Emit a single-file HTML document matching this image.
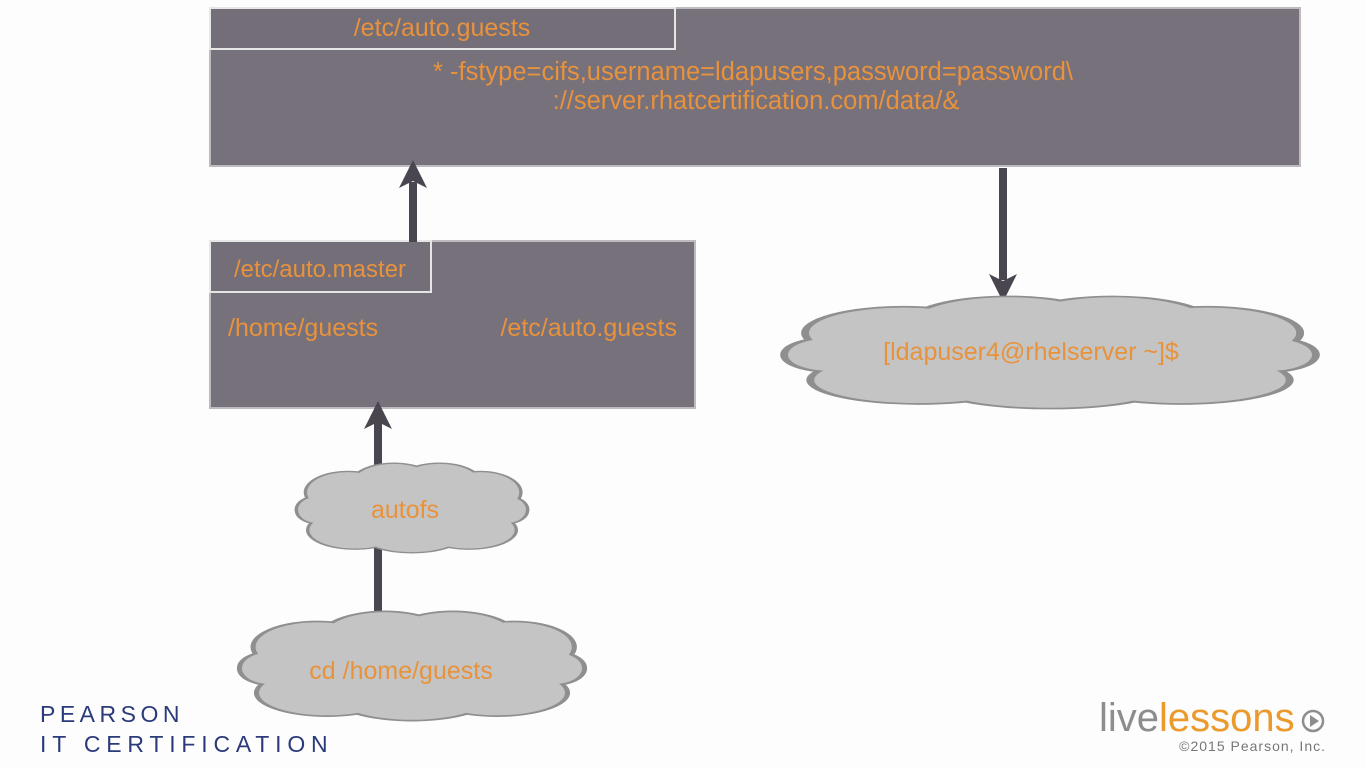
<!DOCTYPE html>
<html><head><meta charset="utf-8"><style>
html,body{margin:0;padding:0;background:#fdfdfd;width:1366px;height:768px;overflow:hidden}
svg{display:block}
text{font-family:"Liberation Sans",sans-serif}
</style></head><body>
<svg width="1366" height="768" viewBox="0 0 1366 768">
<defs>
<g id="cl">
<ellipse cx="50" cy="50" rx="44" ry="34"/>
<ellipse cx="22" cy="33" rx="18" ry="22"/>
<ellipse cx="42" cy="24" rx="18" ry="22"/>
<ellipse cx="62" cy="24" rx="18" ry="22"/>
<ellipse cx="80" cy="33" rx="17" ry="22"/>
<ellipse cx="8" cy="52" rx="8" ry="14"/>
<ellipse cx="92" cy="52" rx="8" ry="14"/>
<ellipse cx="25" cy="74" rx="20" ry="20"/>
<ellipse cx="50" cy="78" rx="22" ry="20"/>
<ellipse cx="75" cy="74" rx="20" ry="20"/>
</g>
</defs>

<rect x="210" y="8" width="1090" height="158" fill="#77717c" stroke="#bdbac0" stroke-width="2"/>
<rect x="210" y="8" width="465" height="41" fill="#736e78" stroke="#e6e6e6" stroke-width="2"/>
<text x="442" y="36" font-size="25" fill="#e8923c" text-anchor="middle">/etc/auto.guests</text>
<text x="753" y="80" font-size="25.5" fill="#e8923c" text-anchor="middle">* -fstype=cifs,username=ldapusers,password=password\</text>
<text x="756" y="109" font-size="25.5" fill="#e8923c" text-anchor="middle">://server.rhatcertification.com/data/&amp;</text>

<rect x="210" y="241" width="485" height="167" fill="#77717c" stroke="#bdbac0" stroke-width="2"/>
<rect x="210" y="241" width="221" height="51" fill="#736e78" stroke="#e6e6e6" stroke-width="2"/>
<text x="320" y="277" font-size="24" fill="#e8923c" text-anchor="middle">/etc/auto.master</text>
<text x="228" y="336" font-size="25" fill="#e8923c">/home/guests</text>
<text x="677" y="336" font-size="25" fill="#e8923c" text-anchor="end">/etc/auto.guests</text>

<g fill="#4a4650">
<rect x="409" y="182" width="8" height="60"/>
<polygon points="413,160 399,188 413,181 427,188"/>
<rect x="999" y="168" width="8" height="112"/>
<polygon points="1003,302 989,274 1003,281 1017,274"/>
<rect x="374" y="422" width="8" height="50"/>
<polygon points="378,401 364,429 378,422 392,429"/>
<rect x="374" y="545" width="8" height="70"/>
</g>

<g transform="translate(298,462) scale(2.28,0.92)" fill="#c4c4c4" stroke="#8f8f8f" stroke-width="3"><use href="#cl"/></g>
<g transform="translate(298,462) scale(2.28,0.92)" fill="#c4c4c4"><use href="#cl"/></g>
<text x="405" y="518" font-size="25" fill="#e8923c" text-anchor="middle">autofs</text>

<g transform="translate(242,610) scale(3.4,1.12)" fill="#c4c4c4" stroke="#8f8f8f" stroke-width="3"><use href="#cl"/></g>
<g transform="translate(242,610) scale(3.4,1.12)" fill="#c4c4c4"><use href="#cl"/></g>
<text x="401" y="679" font-size="25" fill="#e8923c" text-anchor="middle">cd /home/guests</text>

<g transform="translate(788,295) scale(5.24,1.15)" fill="#c4c4c4" stroke="#8f8f8f" stroke-width="3"><use href="#cl"/></g>
<g transform="translate(788,295) scale(5.24,1.15)" fill="#c4c4c4"><use href="#cl"/></g>
<text x="1031" y="360" font-size="25" fill="#e8923c" text-anchor="middle">[ldapuser4@rhelserver ~]$</text>

<text x="40" y="722" font-size="23" fill="#2a3a7a" letter-spacing="4.5">PEARSON</text>
<text x="40" y="752" font-size="23" fill="#2a3a7a" letter-spacing="5.8">IT CERTIFICATION</text>
<text x="1099" y="731" font-size="40" fill="#8d8d8d">live<tspan fill="#eb9a2e">lessons</tspan></text>
<circle cx="1313" cy="721" r="10" fill="none" stroke="#8d8d8d" stroke-width="2.5"/>
<polygon points="1310,715 1310,727 1319,721" fill="#8d8d8d"/>
<text x="1326" y="751" font-size="14" fill="#777" text-anchor="end" letter-spacing="1">©2015 Pearson, Inc.</text>
</svg>
</body></html>
